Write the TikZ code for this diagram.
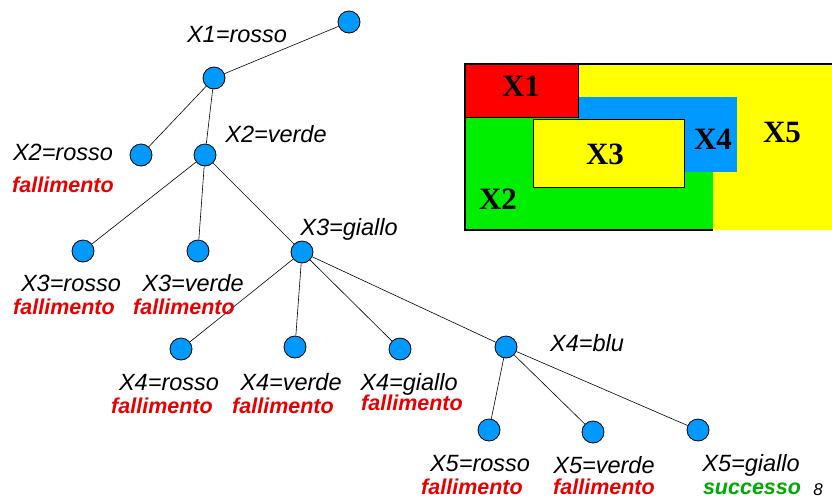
\documentclass[tikz,border=0pt]{standalone}
\usepackage{fontspec}
\setmainfont{Liberation Sans}
\newfontfamily\timesf{Liberation Serif}
\definecolor{nodeblue}{RGB}{0,153,255}
\definecolor{failred}{RGB}{230,0,0}
\definecolor{okgreen}{RGB}{0,170,0}
\definecolor{rred}{RGB}{255,0,0}
\definecolor{rgreen}{RGB}{0,238,0}
\definecolor{rblue}{RGB}{0,153,255}
\definecolor{ryellow}{RGB}{255,255,0}
\tikzset{
  st/.style={circle,draw=black,fill=nodeblue,minimum size=22pt,inner sep=0pt,line width=0.8pt},
  edge/.style={draw=black,line width=0.6pt},
  lab/.style={anchor=base,inner sep=0pt,font=\fontsize{23.5}{26}\selectfont\itshape},
  fail/.style={anchor=base,inner sep=0pt,text=failred,font=\fontsize{21.5}{24}\selectfont\bfseries\itshape},
  succ/.style={anchor=base,inner sep=0pt,text=okgreen,font=\fontsize{21.5}{24}\selectfont\bfseries\itshape},
  reg/.style={anchor=base,inner sep=0pt,font=\fontsize{31}{34}\selectfont\timesf\bfseries},
}
\begin{document}
\begin{tikzpicture}[x=1pt,y=-1pt]
\useasboundingbox (0,0) rectangle (832,499);
% map
\fill[ryellow] (465,64) rectangle (832,230);
\fill[rgreen] (465,117) rectangle (713,230);
\fill[rblue] (578,97) rectangle (737,172);
\fill[rred] (465,64) rectangle (578,117);
\draw[black,line width=0.6pt] (465,117) -- (578,117) -- (578,64);
\draw[black,line width=1pt,fill=ryellow] (533,119) rectangle (684,187);
\draw[black,line width=1.2pt] (832,64) -- (465,64) -- (465,230) -- (713,230);
\node[reg] (rx1) at (521,96) {X1};
\node[reg] (rx2) at (498,209) {X2};
\node[reg] (rx3) at (605,164) {X3};
\node[reg] (rx4) at (713,149) {X4};
\node[reg] (rx5) at (782,142) {X5};
% tree nodes
\node[st] (r) at (349,22) {};
\node[st] (a) at (214,78) {};
\node[st] (b1) at (141,155) {};
\node[st] (b2) at (205,155) {};
\node[st] (c1) at (83,251) {};
\node[st] (c2) at (198,251) {};
\node[st] (c3) at (302,252) {};
\node[st] (d1) at (181,349) {};
\node[st] (d2) at (295,347) {};
\node[st] (d3) at (400,349) {};
\node[st] (d4) at (506,347) {};
\node[st] (e1) at (489,430) {};
\node[st] (e2) at (593,432) {};
\node[st] (e3) at (698,430) {};
% edges
\draw[edge] (r) -- (a);
\draw[edge] (a) -- (b1);
\draw[edge] (a) -- (b2);
\draw[edge] (b2) -- (c1);
\draw[edge] (b2) -- (c2);
\draw[edge] (b2) -- (c3);
\draw[edge] (c3) -- (d1);
\draw[edge] (c3) -- (d2);
\draw[edge] (c3) -- (d3);
\draw[edge] (c3) -- (d4);
\draw[edge] (d4) -- (e1);
\draw[edge] (d4) -- (e2);
\draw[edge] (d4) -- (e3);
% labels
\node[lab] (l1) at (237,42) {X1=rosso};
\node[lab] (l2a) at (63,160) {X2=rosso};
\node[fail] (f2a) at (63,192) {fallimento};
\node[lab] (l2b) at (276,142) {X2=verde};
\node[lab] (l3c) at (349,235) {X3=giallo};
\node[lab] (l3a) at (71,291) {X3=rosso};
\node[fail] (f3a) at (64,314) {fallimento};
\node[lab] (l3b) at (193,291) {X3=verde};
\node[fail] (f3b) at (184,314) {fallimento};
\node[lab] (l4a) at (169,390) {X4=rosso};
\node[fail] (f4a) at (162,413) {fallimento};
\node[lab] (l4b) at (291,390) {X4=verde};
\node[fail] (f4b) at (283,413) {fallimento};
\node[lab] (l4c) at (409,390) {X4=giallo};
\node[fail] (f4c) at (412,410) {fallimento};
\node[lab] (l4d) at (587,351) {X4=blu};
\node[lab] (l5a) at (480,471) {X5=rosso};
\node[fail] (f5a) at (472,494) {fallimento};
\node[lab] (l5b) at (604,473) {X5=verde};
\node[fail] (f5b) at (604,494) {fallimento};
\node[lab] (l5c) at (751,471) {X5=giallo};
\node[succ] (s5c) at (752,494) {successo};
\node[anchor=base,inner sep=0pt,font=\fontsize{17}{20}\selectfont\itshape] (pg) at (818,495) {8};
\end{tikzpicture}
\end{document}
